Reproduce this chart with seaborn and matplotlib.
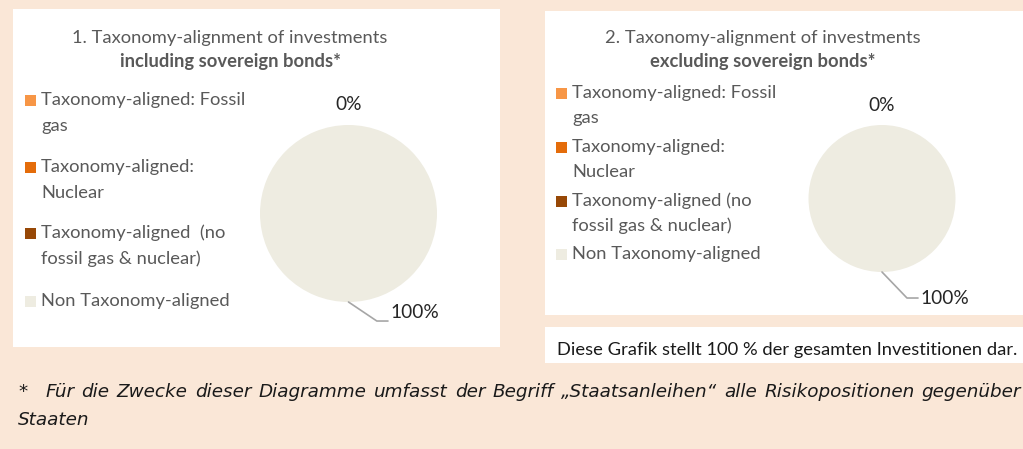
import numpy as np
import seaborn as sns
import matplotlib.pyplot as plt
from matplotlib.patches import Rectangle

sns.set_theme(style="white")
plt.rcParams['font.family'] = ['Lato', 'DejaVu Sans']

# data
categories = ['Taxonomy-aligned: Fossil\ngas',
              'Taxonomy-aligned:\nNuclear',
              'Taxonomy-aligned  (no\nfossil gas & nuclear)',
              'Non Taxonomy-aligned']
categories2 = ['Taxonomy-aligned: Fossil\ngas',
               'Taxonomy-aligned:\nNuclear',
               'Taxonomy-aligned (no\nfossil gas & nuclear)',
               'Non Taxonomy-aligned']
incl_sovereign = [0, 0, 0, 100]
excl_sovereign = [0, 0, 0, 100]
colors = ['#F79646', '#E46C0A', '#974806', '#EEECE1']

title1 = ['1. Taxonomy-alignment of investments', 'including sovereign bonds*']
title2 = ['2. Taxonomy-alignment of investments', 'excluding sovereign bonds*']
caption = 'Diese Grafik stellt 100 % der gesamten Investitionen dar.'
footnote1 = '*  Für die Zwecke dieser Diagramme umfasst der Begriff „Staatsanleihen“ alle Risikopositionen gegenüber'
footnote2 = 'Staaten'

W, H = 1023, 449
BG = '#FAE7D7'
GREY = '#595959'
FS = 13.2
fig = plt.figure(figsize=(W / 100, H / 100), dpi=100)
fig.patch.set_facecolor(BG)


def fx(x):
    return x / W


def fy(y):
    return 1 - y / H


def box(x0, y0, x1, y1):
    fig.patches.append(Rectangle((fx(x0), fy(y1)), fx(x1 - x0), (y1 - y0) / H,
                                 transform=fig.transFigure, facecolor='white',
                                 edgecolor='none', zorder=-5))


box(13, 9, 500, 347)
box(545, 11, 1023, 315)
box(545, 327, 1023, 363)


def panel(values, labels, title, cx, cy, r, title_x, leg_x, leg_ys, gap,
          zero_off, elbow, line_end, text_dy):
    ax = fig.add_axes([fx(cx - r), fy(cy + r), 2 * r / W, 2 * r / H])
    ax.patch.set_alpha(0)
    wedges, _ = ax.pie(values, colors=colors, startangle=90, counterclock=False,
                       wedgeprops=dict(linewidth=0))
    ax.set_xlim(-1, 1)
    ax.set_ylim(-1, 1)
    ax.set_aspect('auto')
    ax.axis('off')

    total = sum(values)
    zero_done = False
    for w, v in zip(wedges, values):
        mid = np.deg2rad((w.theta1 + w.theta2) / 2)
        pct = f'{v / total:.0%}'
        if v == 0:
            # the zero slices overlap at the top, one label is enough
            if zero_done:
                continue
            zero_done = True
            ax.text(np.cos(mid) * zero_off, np.sin(mid) * zero_off, pct,
                    ha='center', va='center', fontsize=13.8, color='#262626',
                    clip_on=False)
        else:
            x0, y0 = np.cos(mid), np.sin(mid)
            ax.plot([x0, elbow[0], line_end], [y0, elbow[1], elbow[1]],
                    color='#A6A6A6', lw=1.2, clip_on=False)
            ax.text(line_end + 0.03, elbow[1] + text_dy, pct, ha='left',
                    va='center', fontsize=13.8, color='#262626', clip_on=False)

    fig.text(fx(title_x), fy(38), title[0], ha='center', va='center',
             fontsize=FS, color=GREY)
    fig.text(fx(title_x), fy(62), title[1], ha='center', va='center',
             fontsize=FS, color=GREY, fontweight='bold')

    for lab, col, ly in zip(labels, colors, leg_ys):
        fig.patches.append(Rectangle((fx(leg_x), fy(ly + 6)), fx(11), 11 / H,
                                     transform=fig.transFigure, facecolor=col,
                                     edgecolor='none'))
        for i, line in enumerate(lab.split('\n')):
            fig.text(fx(leg_x + 16), fy(ly + i * gap), line, ha='left',
                     va='center', fontsize=FS, color=GREY)


panel(incl_sovereign, categories, title1, 348.5, 213.5, 88.5, 230, 25,
      [100, 167, 233, 301], 26, 1.23, (0.32, -1.215), 0.446, 0.1)
panel(excl_sovereign, categories2, title2, 882, 198.5, 73.5, 763, 556,
      [93, 147, 201, 254], 25, 1.27, (0.34, -1.354), 0.49, 0.0)

fig.text(fx(557), fy(350), caption, ha='left', va='center', fontsize=FS,
         color='#1a1a1a')

# justified footnote: spread words across the line
FN = dict(fontsize=13.2, style='italic', color='#1a1a1a',
          family=['DejaVu Sans'])
fig.canvas.draw()
renderer = fig.canvas.get_renderer()
words = footnote1.split()
left, right = 18, 1021
word_texts = [fig.text(0, fy(392), wd, ha='left', va='center', **FN)
              for wd in words]
widths = [t.get_window_extent(renderer).width for t in word_texts]
space = (right - left - sum(widths)) / (len(words) - 1)
xpos = left
for k, (t, wdt) in enumerate(zip(word_texts, widths)):
    t.set_x(fx(xpos))
    xpos += wdt + space
    if k == 0:
        # wider gap after the asterisk
        xpos += 10
        space = (right - xpos - sum(widths[1:])) / (len(words) - 2)
fig.text(fx(left), fy(420), footnote2, ha='left', va='center', **FN)

fig.savefig('out.png', dpi=100, facecolor=BG)
